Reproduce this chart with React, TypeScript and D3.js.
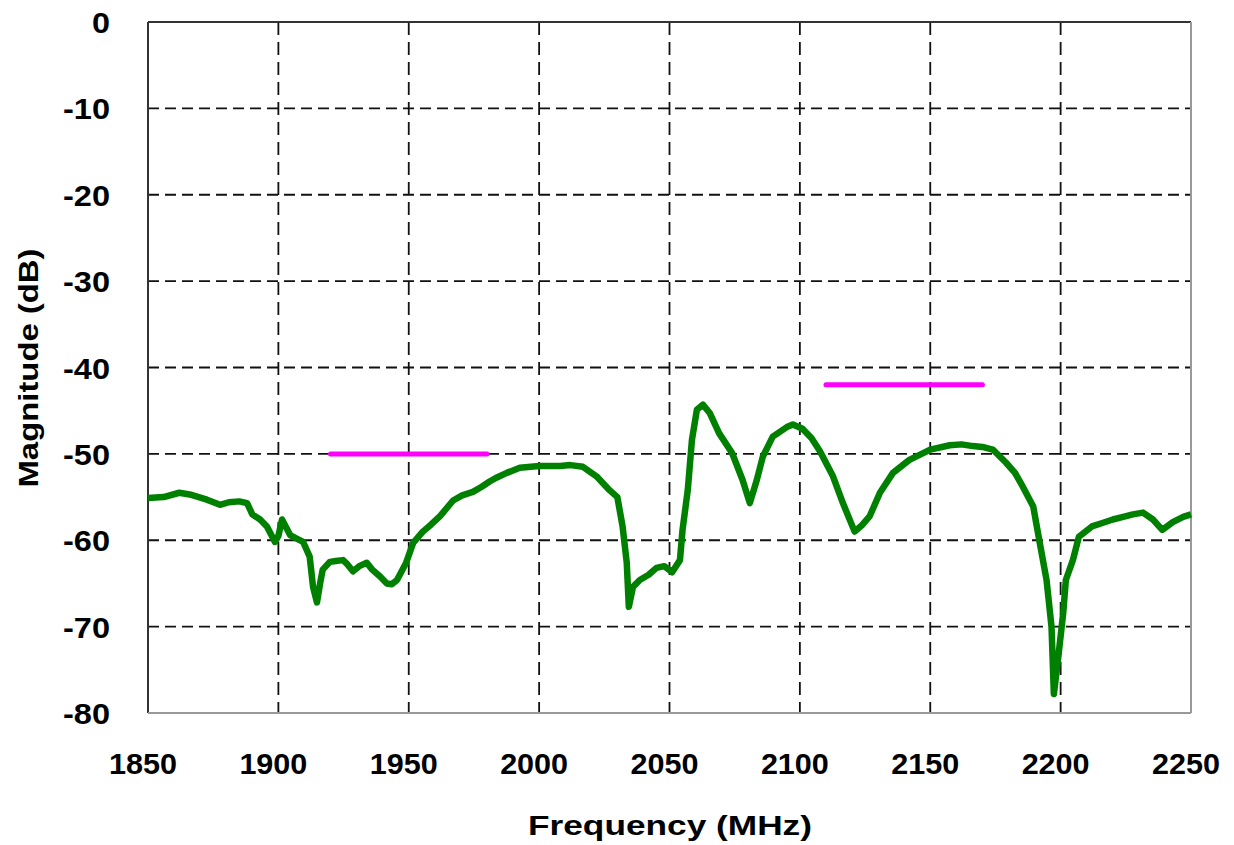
import { useEffect, useRef } from "react"
import * as d3 from "d3"

const freq = [
  1850, 1856, 1862, 1866, 1872.6, 1877.6, 1881, 1885, 1888, 1890, 1893, 1895.6, 1898.7, 1900, 1901.4,
  1904.5, 1907, 1909.5, 1912, 1913.3, 1914.8, 1916, 1917, 1919.8, 1922, 1924.8, 1926.5, 1928.6, 1931,
  1933.9, 1936, 1939, 1941.6, 1943.5, 1945.5, 1949, 1951.7, 1955.4, 1958.5, 1962, 1967, 1970.5,
  1974.6, 1978, 1981, 1984, 1987.6, 1992.6, 2000, 2008, 2012, 2016.8, 2022, 2027, 2030, 2032, 2033.6,
  2034.4, 2036, 2038.6, 2042, 2045, 2048, 2051, 2054, 2055, 2057, 2058.6, 2060.5, 2062.8, 2065.5,
  2069, 2074, 2078, 2080.8, 2083.5, 2085.8, 2089.6, 2095, 2097.3, 2101, 2104.5, 2107.7, 2112.7,
  2116.5, 2121, 2124, 2126.8, 2130.7, 2135.7, 2142, 2150, 2157.5, 2162, 2166.4, 2170, 2174, 2179,
  2182.5, 2185.5, 2189.5, 2192, 2194.6, 2196.5, 2197.4, 2199, 2201, 2202, 2204.7, 2207, 2212, 2216,
  2220, 2224, 2227.7, 2231.6, 2235.4, 2239, 2243, 2247, 2250,
]
const magnitude = [
  -55.1, -55.0, -54.5, -54.7, -55.3, -55.9, -55.6, -55.5, -55.7, -57.0, -57.6, -58.4, -60.2, -59.5, -57.6,
  -59.4, -59.8, -60.2, -61.9, -65.4, -67.2, -65.0, -63.4, -62.5, -62.4, -62.3, -62.8, -63.6, -63.0,
  -62.6, -63.4, -64.2, -65.0, -65.1, -64.6, -62.6, -60.3, -59.0, -58.2, -57.2, -55.4, -54.8,
  -54.4, -53.8, -53.2, -52.7, -52.2, -51.6, -51.4, -51.4, -51.3, -51.5, -52.6, -54.2, -55.0, -58.4, -62.6,
  -67.7, -65.4, -64.6, -64.0, -63.2, -63.0, -63.7, -62.3, -58.8, -54.2, -48.4, -44.9, -44.3, -45.3,
  -47.6, -49.9, -53.0, -55.7, -53.0, -50.3, -48.0, -46.9, -46.6, -47.1, -48.2, -49.7, -52.6,
  -55.7, -59.0, -58.2, -57.2, -54.5, -52.2, -50.7, -49.5, -49.0, -48.9, -49.1, -49.2, -49.5, -51.0,
  -52.2, -53.8, -56.1, -60.3, -64.6, -70.0, -77.8, -73.8, -68.4, -64.6, -62.3, -59.6, -58.4, -58.0,
  -57.6, -57.3, -57.0, -56.8, -57.6, -58.8, -57.9, -57.3, -57.0,
]

// spec limits (pink bars)
const maskStart = [1920, 2110]
const maskEnd = [1980, 2170]
const maskLevel = [-50, -42]

const xTicks = [1850, 1900, 1950, 2000, 2050, 2100, 2150, 2200, 2250]
const yTicks = [0, -10, -20, -30, -40, -50, -60, -70, -80]

export default function App() {
  const ref = useRef<SVGSVGElement>(null)

  useEffect(() => {
    const width = 1234
    const height = 845
    const margin = { top: 22, right: 43, bottom: 132, left: 148 }
    const w = width - margin.left - margin.right
    const h = height - margin.top - margin.bottom

    const root = d3.select(ref.current)
    root.selectAll("*").remove()
    const svg = root.append("g").attr("transform", `translate(${margin.left},${margin.top})`)

    const x = d3.scaleLinear().domain([1850, 2250]).range([0, w])
    const y = d3.scaleLinear().domain([-80, 0]).range([h, 0])

    // grid
    svg
      .selectAll(".vgrid")
      .data(xTicks.slice(1, -1))
      .enter()
      .append("line")
      .attr("x1", (d) => x(d))
      .attr("x2", (d) => x(d))
      .attr("y1", 0)
      .attr("y2", h)
      .style("stroke", "#111")
      .style("stroke-width", 1.8)
      .style("stroke-dasharray", "13,7")

    svg
      .selectAll(".hgrid")
      .data(yTicks.slice(1, -1))
      .enter()
      .append("line")
      .attr("x1", 0)
      .attr("x2", w)
      .attr("y1", (d) => y(d))
      .attr("y2", (d) => y(d))
      .style("stroke", "#111")
      .style("stroke-width", 1.8)
      .style("stroke-dasharray", "11,6")

    // frame: dark left/top, gray right/bottom
    svg.append("line").attr("x1", 0).attr("x2", 0).attr("y1", 0).attr("y2", h)
      .style("stroke", "#333").style("stroke-width", 2)
    svg.append("line").attr("x1", 0).attr("x2", w).attr("y1", 0).attr("y2", 0)
      .style("stroke", "#333").style("stroke-width", 2)
    svg.append("line").attr("x1", w).attr("x2", w).attr("y1", 0).attr("y2", h)
      .style("stroke", "#999").style("stroke-width", 2)
    svg.append("line").attr("x1", 0).attr("x2", w).attr("y1", h).attr("y2", h)
      .style("stroke", "#999").style("stroke-width", 2)

    // mask bars
    svg
      .selectAll(".mask")
      .data(maskStart)
      .enter()
      .append("line")
      .attr("x1", (d) => x(d))
      .attr("x2", (_, i) => x(maskEnd[i]))
      .attr("y1", (_, i) => y(maskLevel[i]))
      .attr("y2", (_, i) => y(maskLevel[i]))
      .style("stroke", "#ff00ff")
      .style("stroke-width", 5)
      .style("stroke-linecap", "round")

    // response trace
    const line = d3
      .line<number>()
      .x((_, i) => x(freq[i]))
      .y((d) => y(d))

    svg
      .append("path")
      .datum(magnitude)
      .attr("d", line)
      .style("fill", "none")
      .style("stroke", "#008000")
      .style("stroke-width", 6.5)
      .style("stroke-linejoin", "round")

    const font = "'Liberation Sans', Arial, sans-serif"

    // tick labels
    svg
      .selectAll(".xlab")
      .data(xTicks)
      .enter()
      .append("text")
      .attr("x", (d) => x(d) - 5)
      .attr("y", h + 61)
      .attr("text-anchor", "middle")
      .style("font-family", font)
      .style("font-weight", "bold")
      .style("font-size", "29px")
      .attr("textLength", 68)
      .attr("lengthAdjust", "spacingAndGlyphs")
      .text((d) => d)

    svg
      .selectAll(".ylab")
      .data(yTicks)
      .enter()
      .append("text")
      .attr("x", -38)
      .attr("y", (d) => y(d) + 11)
      .attr("text-anchor", "end")
      .style("font-family", font)
      .style("font-weight", "bold")
      .style("font-size", "29px")
      .attr("textLength", (d) => (d === 0 ? 18 : 47))
      .attr("lengthAdjust", "spacingAndGlyphs")
      .text((d) => d)

    // axis titles
    svg
      .append("text")
      .attr("x", 670 - margin.left)
      .attr("y", h + 122)
      .attr("text-anchor", "middle")
      .style("font-family", font)
      .style("font-weight", "bold")
      .style("font-size", "27px")
      .attr("textLength", 284)
      .attr("lengthAdjust", "spacingAndGlyphs")
      .text("Frequency (MHz)")

    svg
      .append("text")
      .attr("transform", `translate(${38 - margin.left},${368 - margin.top}) rotate(-90)`)
      .attr("text-anchor", "middle")
      .style("font-family", font)
      .style("font-weight", "bold")
      .style("font-size", "27px")
      .attr("textLength", 239)
      .attr("lengthAdjust", "spacingAndGlyphs")
      .text("Magnitude (dB)")
  }, [])

  return (
    <svg
      ref={ref}
      width={1234}
      height={845}
      style={{ position: "absolute", left: 0, top: 0, background: "#fff" }}
    />
  )
}
